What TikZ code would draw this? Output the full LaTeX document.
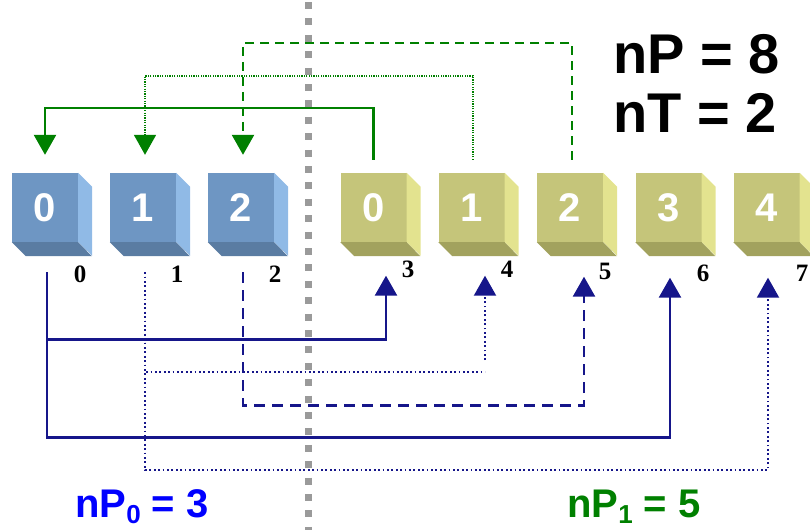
\documentclass[tikz,border=0pt]{standalone}
\usepackage{fontspec}
\setmainfont{Liberation Sans}
\newfontfamily\idxfont{Liberation Serif}
\usetikzlibrary{arrows.meta}
\definecolor{bF}{HTML}{6E96C3}
\definecolor{bS}{HTML}{90BAE6}
\definecolor{bD}{HTML}{5A7CA2}
\definecolor{gF}{HTML}{C5C57A}
\definecolor{gS}{HTML}{E3E38F}
\definecolor{gD}{HTML}{A2A25E}
\definecolor{gline}{HTML}{008000}
\definecolor{bline}{HTML}{16168A}
\definecolor{sepgray}{HTML}{9A9A9A}
\definecolor{lblblue}{HTML}{0000FF}
\begin{document}
\begin{tikzpicture}[x=1pt,y=-1pt,
  cubeface/.style={minimum width=66pt,minimum height=69pt,inner sep=0pt,text=white,
    font=\bfseries\fontsize{40}{40}\selectfont},
  idx/.style={inner sep=0pt,font=\idxfont\bfseries\fontsize{25}{25}\selectfont},
  tip/.style={-{Triangle[width=22pt,length=20pt]}},
  gsolid/.style={draw=gline,line width=2.6pt,tip,fill=none},
  gdot/.style={draw=gline,line width=1.7pt,dash pattern=on 1.2pt off 1.2pt,tip},
  gdash/.style={draw=gline,line width=2.6pt,dash pattern=on 9pt off 6pt,tip},
  bsolid/.style={draw=bline,line width=2.6pt,tip},
  bdot/.style={draw=bline,line width=2.1pt,dash pattern=on 1.8pt off 2.6pt,tip},
  bdash/.style={draw=bline,line width=2.6pt,dash pattern=on 11pt off 7pt,tip},
  biglbl/.style={anchor=base west,inner sep=0pt,font=\bfseries\fontsize{56}{56}\selectfont},
  botlbl/.style={anchor=base west,inner sep=0pt,font=\bfseries\fontsize{40}{40}\selectfont}]
\useasboundingbox (0,0) rectangle (810,530);

% cubes
\node[cubeface,fill=bF] (b0) at (45,207.5) {0};
\node[cubeface,fill=bF] (b1) at (143,207.5) {1};
\node[cubeface,fill=bF] (b2) at (241,207.5) {2};
\node[cubeface,fill=gF] (g0) at (373.5,207.5) {0};
\node[cubeface,fill=gF] (g1) at (471.5,207.5) {1};
\node[cubeface,fill=gF] (g2) at (570,207.5) {2};
\node[cubeface,fill=gF] (g3) at (668.5,207.5) {3};
\node[cubeface,fill=gF] (g4) at (766.5,207.5) {4};
\foreach \n/\s/\d in {b0/bS/bD,b1/bS/bD,b2/bS/bD,g0/gS/gD,g1/gS/gD,g2/gS/gD,g3/gS/gD,g4/gS/gD}{
  \fill[\s] (\n.north east) -- ++(14,14) -- ++(0,69) -- (\n.south east) -- cycle;
  \fill[\d] (\n.south west) -- ++(14,14) -- ++(66,0) -- (\n.south east) -- cycle;
}

% index labels
\node[idx] (i0) at (80,274) {0};
\node[idx] (i1) at (177,274) {1};
\node[idx] (i2) at (275,274) {2};
\node[idx] (i3) at (408,269) {3};
\node[idx] (i4) at (507,269) {4};
\node[idx] (i5) at (605,271) {5};
\node[idx] (i6) at (703,273) {6};
\node[idx] (i7) at (802,273) {7};

% green connector ends
\coordinate (gt0) at ([yshift=13pt]g0.north);
\coordinate (gt1) at ([xshift=1.5pt,yshift=13pt]g1.north);
\coordinate (gt2) at ([xshift=2pt,yshift=13pt]g2.north);
\coordinate (ga0) at ([yshift=18pt]b0.north);
\coordinate (ga1) at ([xshift=2pt,yshift=18pt]b1.north);
\coordinate (ga2) at ([xshift=2pt,yshift=18pt]b2.north);
\draw[gsolid] (gt0) -- ++(0,-52) -| (ga0);
\draw[gdot] (gt1) -- ++(0,-84) -| (ga1);
\draw[gdash] (gt2) -- ++(0,-117) -| (ga2);

% blue connector ends
\coordinate (bs0) at ([xshift=2pt,yshift=-30pt]b0.south);
\coordinate (bs1) at ([xshift=2pt,yshift=-30pt]b1.south);
\coordinate (bs2) at ([xshift=2pt,yshift=-30pt]b2.south);
\coordinate (bt3) at ([xshift=12.5pt,yshift=-33.5pt]g0.south);
\coordinate (bt4) at ([xshift=13.5pt,yshift=-33.5pt]g1.south);
\coordinate (bt5) at ([xshift=14pt,yshift=-34.5pt]g2.south);
\coordinate (bt6) at ([xshift=1.5pt,yshift=-35.5pt]g3.south);
\coordinate (bt7) at ([xshift=1.5pt,yshift=-35.5pt]g4.south);
\draw[bsolid] (bs0) -- ++(0,67) -| (bt3);
\draw[bsolid] (bs0) -- ++(0,165) -| (bt6);
\draw[bdot] (bs1) -- ++(0,100) -- ++(340,0) ++(0,-12) -- (bt4);
\draw[bdot] (bs1) -- ++(0,198) -| (bt7);
\draw[bdash] (bs2) -- ++(0,133) -| (bt5);

% separator
\coordinate (septop) at (308.5,2);
\coordinate (sepbot) at (308.5,530);
\draw[sepgray,line width=6.5pt,dash pattern=on 7pt off 9.4pt] (septop) -- (sepbot);

% labels
\node[biglbl] (np) at (613,73) {nP = 8};
\node[biglbl] (nt) at (613,132) {nT = 2};
\node[botlbl,text=lblblue] (np0) at (75,517) {nP\raisebox{-0.16em}{\fontsize{26}{26}\selectfont 0} = 3};
\node[botlbl,text=gline] (np1) at (567,517) {nP\raisebox{-0.16em}{\fontsize{26}{26}\selectfont 1} = 5};
\end{tikzpicture}
\end{document}
